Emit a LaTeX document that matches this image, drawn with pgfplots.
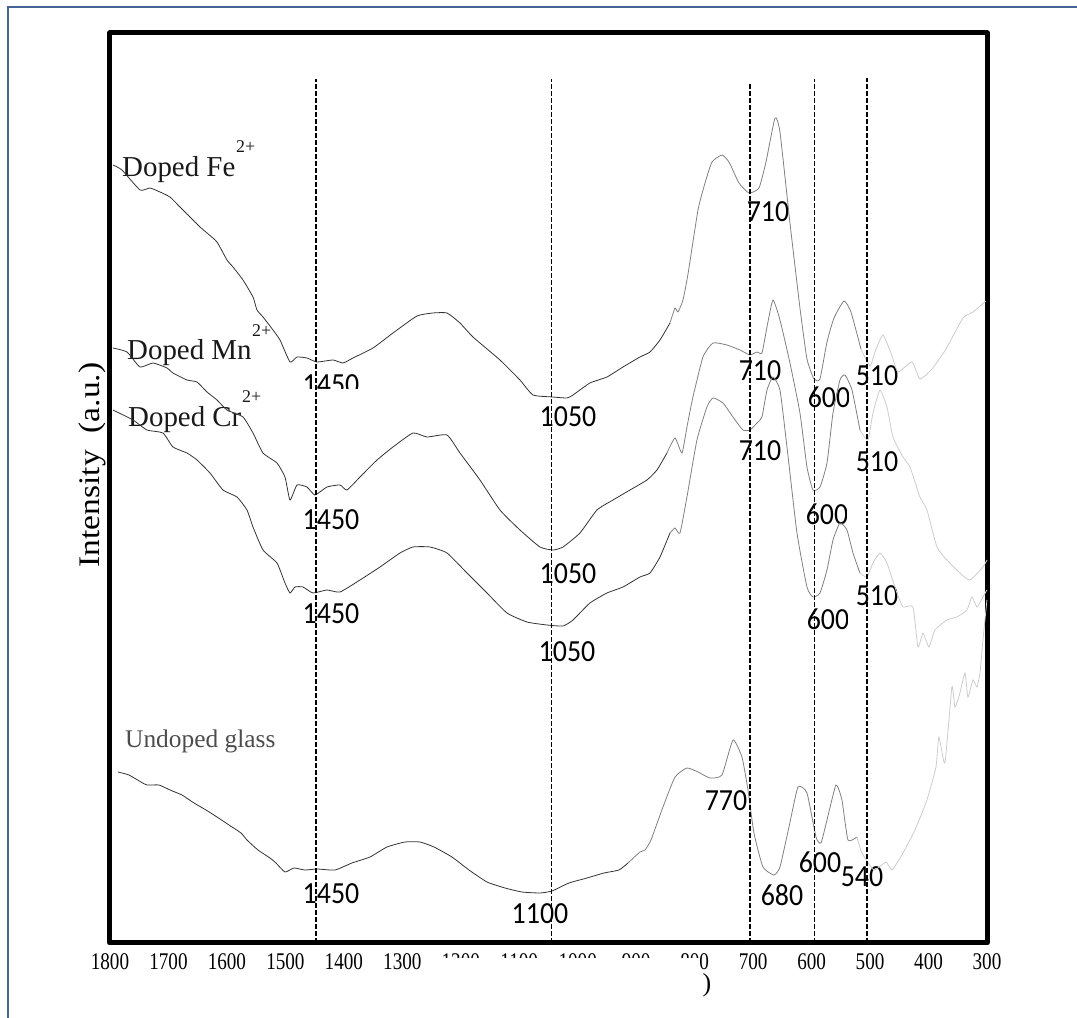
\documentclass[border=0pt]{standalone}
\usepackage{fontspec}
\setmainfont{Liberation Serif}
\newfontfamily\calib{Carlito}
\usepackage{pgfplots}
\pgfplotsset{compat=1.18}
\definecolor{pageblue}{RGB}{70,100,150}
\definecolor{dk}{gray}{0.2}
\definecolor{md}{gray}{0.5}
\definecolor{lt}{gray}{0.8}
\newcommand\num[1]{{\calib\fontsize{28}{28}\selectfont #1}}
\begin{document}
\begin{tikzpicture}
\useasboundingbox (0,0) rectangle (1077bp,1018bp);
\begin{scope}[x=1bp,y=-1bp,yshift=1018bp]
 \draw[pageblue, line width=1.5bp] (8,1018) -- (8,7) -- (1077,7);
 \tikzset{lab/.style={inner sep=0pt, anchor=center, yscale=1.1}}
 % Fe row
 \node[lab] at (331,385) {\num{1450}};
 \node[lab] at (568,417) {\num{1050}};
 \node[lab] at (768,212) {\num{710}};
 \node[lab] at (760,371) {\num{710}};
 \node[lab] at (829,397) {\num{600}};
 \node[lab] at (877,376) {\num{510}};
 % Mn row
 \node[lab] at (331,520) {\num{1450}};
 \node[lab] at (568,574) {\num{1050}};
 \node[lab] at (760,451) {\num{710}};
 \node[lab] at (827,514) {\num{600}};
 \node[lab] at (877,462) {\num{510}};
 % Cr row
 \node[lab] at (331,614) {\num{1450}};
 \node[lab] at (567,652) {\num{1050}};
 \node[lab] at (828,619) {\num{600}};
 \node[lab] at (877,596) {\num{510}};
 % undoped
 \node[lab] at (331,894) {\num{1450}};
 \node[lab] at (540,914) {\num{1100}};
 \node[lab] at (726,801) {\num{770}};
 \node[lab] at (782,895) {\num{680}};
 \node[lab] at (820,862) {\num{600}};
 \node[lab] at (862,877) {\num{540}};
 % masks clipping labels
 \fill[white] (298,389) rectangle (366,402);
 \fill[white] (849,385) rectangle (855,409);
 \fill[white] (847,502) rectangle (854,526);
 \fill[white] (848,607) rectangle (855,631);
 % series names
 \tikzset{nm/.style={inner sep=0pt, anchor=base west, text=black!90}}
 \node[nm] at (122,177) {\fontsize{29}{29}\selectfont Doped Fe};
 \node[nm] at (236,153) {\fontsize{18}{18}\selectfont 2+};
 \node[nm] at (127,360) {\fontsize{29}{29}\selectfont Doped Mn};
 \node[nm] at (252,337) {\fontsize{18}{18}\selectfont 2+};
 \node[nm] at (128,427) {\fontsize{29}{29}\selectfont Doped Cr};
 \node[nm] at (242,403) {\fontsize{18}{18}\selectfont 2+};
 \node[nm, text=black!70] at (125,748) {\fontsize{25.5}{25.5}\selectfont Undoped glass};
 % y label
 \node[inner sep=0pt, rotate=90, anchor=base] at (99,465) {\scalebox{1.12}[1]{\fontsize{30}{30}\selectfont Intensity\ \ (a.u.)}};
\end{scope}
\begin{axis}[
 at={(110bp,75bp)}, anchor=south west,
 scale only axis, width=877bp, height=910bp,
 xmin=300, xmax=1800, ymin=75, ymax=985, x dir=reverse,
 axis line style={line width=5bp, line join=round},
 xtick={300,400,...,1800}, ytick=\empty,
 major tick length=0pt,
 xticklabel style={font=\fontsize{24}{24}\selectfont, inner sep=0pt, anchor=north, yshift=-10bp, xscale=0.8},
 /pgf/number format/assume math mode=true,
 /pgf/number format/set thousands separator={},
 clip=false,
 every axis plot/.append style={line width=0.8bp, smooth, tension=0.3},
]
% ---------- Doped Fe ----------
\addplot[dk] coordinates {
(1794.9,853) (1779.5,848) (1748.7,828) (1731.6,830) (1714.5,826) (1697.4,821) (1680.3,811) (1658.0,798) (1646.1,791) (1634.1,785) (1617.0,776) (1599.9,758) (1589.6,751) (1572.5,738) (1555.4,721) (1548.6,708) (1538.3,701) (1521.2,688) (1509.2,678) (1492.1,656) (1480.2,661) (1463.1,660) (1446.0,656) (1418.6,658) (1401.5,655) (1384.4,660) (1350.2,670) (1316.0,685) (1274.9,702) (1247.6,705) (1223.6,705) (1201.4,695) (1179.2,681) (1133.0,658) (1098.8,638) (1076.5,623) (1042.3,621) (1018.4,620) (1008.1,623) (979.1,635) (950.0,641) (922.6,651) (893.5,661) (876.4,666) (859.3,678) (842.2,695)};
\addplot[md] coordinates {
(842.2,695) (833.6,710) (828.5,706) (820.0,718) (811.4,744) (794.3,808) (782.3,835) (770.4,856) (753.3,863) (741.3,856) (724.2,835) (707.1,825) (690.0,830) (678.0,856) (662.6,900) (654.1,886) (637.0,795) (619.9,710) (607.9,659) (595.9,639) (585.7,639) (573.7,676) (561.7,700) (544.6,717) (532.7,706) (515.6,669)};
\addplot[lt] coordinates {
(515.6,669) (500.2,652) (491.6,666) (477.9,683) (462.5,662) (452.3,646) (428.3,656) (414.7,639) (394.1,649) (370.2,669) (341.1,700) (324.0,706) (301.8,717)};
% ---------- Doped Mn ----------
\addplot[dk] coordinates {
(1794.9,670) (1770.9,666) (1748.7,651) (1726.5,655) (1702.5,650) (1692.3,645) (1668.3,638) (1651.2,636) (1634.1,626) (1617.0,618) (1599.9,608) (1572.5,601) (1555.4,585) (1538.3,565) (1514.4,555) (1500.7,541) (1492.1,518) (1480.2,533) (1463.1,531) (1449.4,523) (1428.9,531) (1406.6,533) (1394.7,528) (1372.4,541) (1343.3,558) (1316.0,571) (1281.8,585) (1257.8,581) (1223.6,583) (1201.4,565) (1167.2,538) (1133.0,508) (1098.8,488) (1064.6,471) (1042.3,468) (1025.2,471) (996.2,485) (967.1,508) (939.7,518) (910.6,528) (881.6,538) (864.5,548) (847.4,565)};
\addplot[md] coordinates {
(847.4,565) (833.6,580) (821.7,565) (813.2,591) (802.9,621) (785.8,661) (768.7,675) (744.8,673) (722.5,668) (705.4,663) (693.4,666) (684.9,665) (676.3,691) (666.1,718) (654.1,698) (637.0,655) (619.9,605) (607.9,551) (597.7,528) (585.7,531) (573.7,555) (563.4,605) (551.5,638) (542.9,643) (530.9,628) (517.3,588)};
\addplot[lt] coordinates {
(517.3,588) (503.6,578) (495.0,605) (483.1,628) (471.1,611) (460.8,581) (443.7,561) (431.8,551) (414.7,521) (402.7,508) (385.6,471) (368.5,458) (346.3,445) (329.2,438) (306.9,451) (300.1,458)};
% ---------- Doped Cr ----------
\addplot[dk] coordinates {
(1794.9,608) (1760.7,598) (1736.7,588) (1709.4,585) (1692.3,571) (1668.3,565) (1651.2,558) (1629.0,545) (1606.7,528) (1582.8,521) (1565.7,508) (1555.4,491) (1538.3,468) (1514.4,455) (1500.7,435) (1492.1,425) (1483.6,431) (1469.9,431) (1452.8,425) (1428.9,428) (1406.6,426) (1372.4,438) (1338.2,451) (1304.0,465) (1281.8,471) (1252.7,471) (1223.6,465) (1189.4,445) (1155.2,425) (1121.0,405) (1086.8,396) (1052.6,393) (1025.2,392) (1008.1,398) (979.1,415) (950.0,425) (922.6,431) (893.5,441) (876.4,445) (859.3,461) (842.2,485)};
\addplot[md] coordinates {
(842.2,485) (833.6,490) (825.1,485) (813.2,521) (796.1,578) (779.0,611) (768.7,620) (751.6,615) (734.5,601) (717.4,588) (705.4,588) (693.4,595) (684.9,601) (676.3,628) (666.1,641) (654.1,628) (642.1,571) (625.0,485) (607.9,431) (597.7,421) (585.7,425) (573.7,448) (563.4,478) (551.5,495) (539.5,488) (529.2,465) (517.3,445)};
\addplot[lt] coordinates {
(517.3,445) (505.3,441) (495.0,455) (483.1,465) (471.1,455) (454.0,425) (443.7,411) (426.6,411) (418.1,371) (409.5,385) (399.3,371) (389.0,388) (368.5,398) (351.4,401) (334.3,408) (325.7,421) (317.2,411) (306.9,421) (300.1,428)};
% ---------- Undoped glass ----------
\addplot[dk] coordinates {
(1786.3,246) (1767.5,243) (1747.0,236) (1736.7,233) (1716.2,233) (1697.4,228) (1676.9,223) (1656.3,215) (1635.8,208) (1617.0,201) (1596.5,193) (1575.9,185) (1565.7,178) (1546.9,168) (1526.4,160) (1516.1,155) (1500.7,146) (1485.3,150) (1466.5,148) (1446.0,149) (1415.2,148) (1386.1,155) (1355.3,161) (1326.2,171) (1295.5,176) (1269.8,176) (1245.9,171) (1215.1,161) (1186.0,148) (1155.2,136) (1124.4,130) (1095.4,126) (1064.6,125) (1044.0,127) (1014.9,135) (984.2,140) (955.1,145) (929.4,148) (914.1,155)};
\addplot[md] coordinates {
(914.1,155) (893.5,166) (885.0,168) (874.7,178) (854.2,211) (833.6,241) (813.2,250) (794.3,246) (773.8,240) (753.3,243) (734.5,278) (719.1,261) (708.8,228) (698.6,185) (683.2,151) (664.4,143) (654.1,151) (638.7,191) (623.3,231) (607.9,225) (592.5,181) (583.9,175) (573.7,198) (558.3,233) (548.1,218) (537.8,178) (522.4,181)};
\addplot[lt] coordinates {
(522.4,181) (513.9,165) (493.3,148) (472.8,156) (462.5,148) (443.7,165) (423.2,188) (402.7,218) (387.3,251) (382.2,281) (372.0,255) (360.0,331) (354.8,311) (346.3,325) (337.7,345) (332.6,321) (324.0,338) (317.2,331) (312.0,345) (306.9,378) (300.1,418)};
% ---------- dashed guide lines ----------
\addplot[black, line width=1.6bp, sharp plot, dash pattern=on 5bp off 2bp] coordinates {(1448,75) (1448,939)};
\addplot[black, line width=1.6bp, sharp plot, dash pattern=on 5bp off 2bp] coordinates {(1045,75) (1045,939)};
\addplot[black, line width=1.6bp, sharp plot, dash pattern=on 5bp off 2bp] coordinates {(705,75) (705,935)};
\addplot[black, line width=1.6bp, sharp plot, dash pattern=on 5bp off 2bp] coordinates {(595,75) (595,939)};
\addplot[black, line width=1.6bp, sharp plot, dash pattern=on 5bp off 2bp] coordinates {(505,75) (505,940)};
\end{axis}
\begin{scope}[x=1bp,y=-1bp,yshift=1018bp]
 \fill[white] (425,958) rectangle (700,1018);
 \node[inner sep=0pt] at (707,985) {\fontsize{26}{26}\selectfont )};
\end{scope}
\end{tikzpicture}
\end{document}
